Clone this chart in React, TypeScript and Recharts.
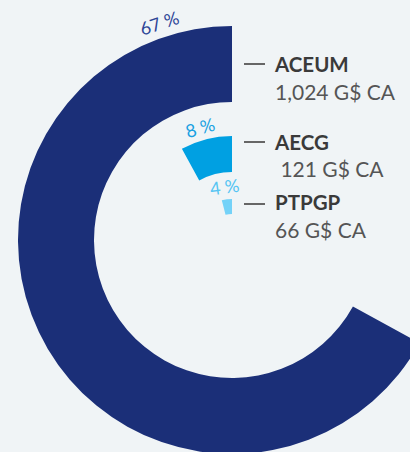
import { PieChart, Pie, Cell } from 'recharts';

const W = 410;
const H = 452;
const BG = '#f0f4f6';
const CX = 232;
const CY = 240;

// one ring per agreement, share in percent
const names = ['ACEUM', 'AECG', 'PTPGP'];
const shares = [67, 8, 4];
const amounts = ['1,024 G$ CA', '\u00a0121 G$ CA', '66 G$ CA'];

const ringColors = ['#1b2f78', '#00a0e2', '#74d2f8'];
const labelColors = ['#2d4596', '#1ba1e2', '#55c4f3'];
const rings = [
  { inner: 138, outer: 214 },
  { inner: 68, outer: 104 },
  { inner: 26, outer: 41 },
];
// legend rows: dash y, name baseline, amount baseline
const legendRows = [
  { dash: 64, name: 72, amount: 100 },
  { dash: 142, name: 150, amount: 177 },
  { dash: 204, name: 210, amount: 238 },
];

const RAD = Math.PI / 180;

function makeLabel(i: number) {
  return (props: any) => {
    if (props.index !== 0) return null;
    const { cx, cy, startAngle, endAngle, outerRadius } = props;
    const sweep = endAngle - startAngle;
    const a = startAngle + Math.min(sweep * 0.55, 18.5);
    const r = outerRadius + (i === 0 ? 15 : 13);
    const x = cx + r * Math.cos(a * RAD);
    const y = cy - r * Math.sin(a * RAD);
    return (
      <text
        x={x}
        y={y}
        fill={labelColors[i]}
        fontSize={18}
        fontFamily="Lato, sans-serif"
        textAnchor="middle"
        dominantBaseline="central"
        transform={`rotate(${90 - a} ${x} ${y})`}
      >
        {shares[i]} %
      </text>
    );
  };
}

export default function App() {
  return (
    <div style={{ position: 'fixed', left: 0, top: 0, width: W, height: H, background: BG, overflow: 'hidden' }}>
      <PieChart width={W} height={H} margin={{ top: 0, right: 0, bottom: 0, left: 0 }}>
        {shares.map((s, i) => (
          <Pie
            key={names[i]}
            data={[{ name: names[i], value: s }, { name: 'rest', value: 100 - s }]}
            dataKey="value"
            cx={CX}
            cy={CY}
            innerRadius={rings[i].inner}
            outerRadius={rings[i].outer}
            startAngle={90}
            endAngle={450}
            stroke="none"
            label={makeLabel(i)}
            labelLine={false}
            isAnimationActive={false}
          >
            <Cell fill={ringColors[i]} />
            <Cell fill="transparent" />
          </Pie>
        ))}
      </PieChart>
      <svg width={W} height={H} style={{ position: 'absolute', left: 0, top: 0, pointerEvents: 'none' }}>
        {names.map((n, i) => (
          <g key={n} fontFamily="Lato, sans-serif">
            <line x1={244} x2={265} y1={legendRows[i].dash} y2={legendRows[i].dash} stroke="#666" strokeWidth={2} />
            <text x={275} y={legendRows[i].name} fontSize={20.5} fontWeight={700} fill="#3a3a3a">{n}</text>
            <text x={275} y={legendRows[i].amount} fontSize={21} fill="#555">{amounts[i]}</text>
          </g>
        ))}
      </svg>
    </div>
  );
}
